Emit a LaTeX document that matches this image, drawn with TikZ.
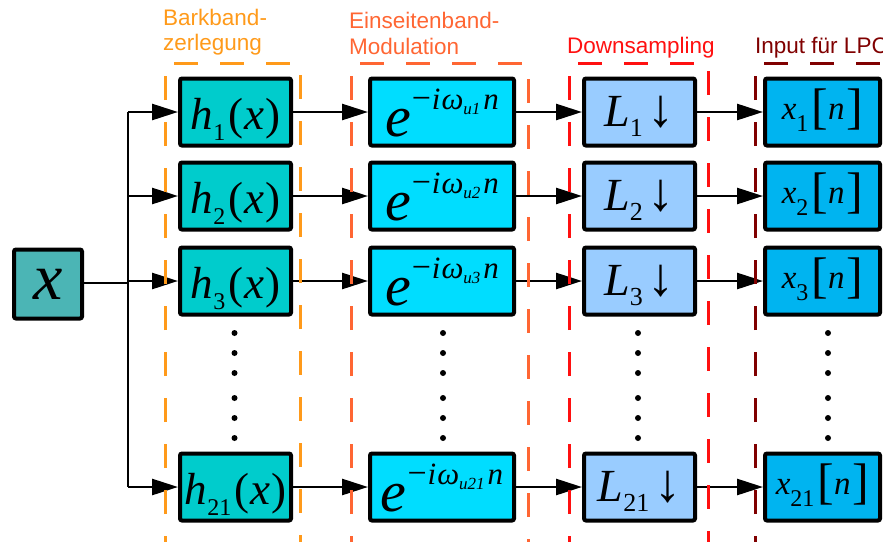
\documentclass[tikz,border=0pt]{standalone}
\usepackage{fontspec}
\setmainfont{Liberation Serif}
\newfontfamily\labfont{Liberation Sans}
\usetikzlibrary{arrows.meta}
\definecolor{cx}{HTML}{4BB5B5}
\definecolor{ch}{HTML}{00CCCC}
\definecolor{ce}{HTML}{00DDFF}
\definecolor{cl}{HTML}{99CCFF}
\definecolor{cn}{HTML}{00B4F0}
\definecolor{frA}{HTML}{FF9A1A}
\definecolor{frB}{HTML}{FF6633}
\definecolor{frC}{HTML}{FF1010}
\definecolor{frD}{HTML}{800000}
\newcommand\sz[1]{\fontsize{#1}{#1}\selectfont}
% baseline placed #1 below the node centre
\newcommand\bl[2]{\raisebox{0pt}[#1][0pt]{#2}}
\newcommand\htxt[1]{\bl{35pt}{{\sz{45}\itshape h}\raisebox{-11pt}{\sz{24}#1}\hspace{3pt}{\sz{45}(\kern1pt{\itshape x}\kern1pt)}}}
\newcommand\etxt[1]{\bl{49pt}{{\sz{58}\itshape e}\kern1pt\raisebox{27pt}{{\sz{34}−}\kern1pt{\sz{31}\itshape i\kern1pt ω}\raisebox{-5pt}{\sz{17}\itshape u#1}\kern3pt{\sz{31}\itshape n}}}}
\newcommand\ltxt[1]{\bl{29pt}{{\sz{46}\itshape L}\raisebox{-10pt}{\sz{26}#1}\hspace{5pt}{\sz{54}↓}}}
\newcommand\ntxt[1]{\bl{15pt}{{\sz{33}\itshape x}\raisebox{-12pt}{\sz{24}#1}\hspace{3pt}\raisebox{-4pt}{\sz{50}[}{\sz{33}\itshape n}\kern2pt\raisebox{-4pt}{\sz{50}]}}}
\begin{document}
\begin{tikzpicture}[x=1pt,y=-1pt,
  blk/.style={draw=black, line width=4pt, rounded corners=2pt, inner sep=0pt, minimum height=67pt, anchor=center},
  hb/.style={blk, fill=ch, minimum width=111pt},
  eb/.style={blk, fill=ce, minimum width=144pt},
  lb/.style={blk, fill=cl, minimum width=111pt},
  nb/.style={blk, fill=cn, minimum width=115pt},
  conn/.style={line width=2.6pt, -{Triangle[length=26pt,width=16pt]}},
  fan/.style={line width=2pt},
  frame/.style={line width=3pt, dash pattern=on 24pt off 22pt},
  lab/.style={anchor=base west, inner sep=0pt, font=\labfont\sz{22.5}},
  dot/.style={fill=black}
]
\useasboundingbox (0,0) rectangle (883,541);
% input
\node[blk, fill=cx, minimum width=68pt, minimum height=69pt] (x) at (48,284) {\bl{31pt}{\sz{66}\itshape x}};
% rows
\foreach \r/\y/\s in {1/112/1, 2/196/2, 3/281/3, 21/487/21}{
  \node[hb] (h\r) at (235.5,\y) {\htxt{\s}};
  \node[eb] (e\r) at (442,\y) {\etxt{\s}};
  \node[lb] (l\r) at (639.5,\y) {\ltxt{\s}};
  \node[nb] (n\r) at (822.5,\y) {\ntxt{\s}};
  \coordinate (v\r) at (128,\y);
  \draw[conn] (v\r) -- (h\r.west);
  \draw[conn] (h\r.east) -- (e\r.west);
  \draw[conn] (e\r.east) -- (l\r.west);
  \draw[conn] (l\r.east) -- (n\r.west);
}
\coordinate (vm) at (128,283);
\draw[fan] (v1) -- (v21);
\draw[fan] (x.east |- vm) -- (vm);
% dots
\foreach \cx in {234.5,443,638,828}{
  \foreach \dy in {333,353,373,398,418,438}{
    \fill[dot] (\cx,\dy) circle (3pt);
  }
}
% frames
\draw[frame, draw=frA] (165,560) -- (165,63) -- (300,63) -- (300,560);
\draw[frame, draw=frB] (351,560) -- (351,63) -- (528,63) -- (528,560);
\draw[frame, draw=frC] (569,560) -- (569,63) -- (708,63) -- (708,560);
\draw[frame, draw=frD] (755,560) -- (755,63) -- (900,63);
% labels
\node[lab, text=frA] (la1) at (163,25) {Barkband-};
\node[lab, text=frA] (la2) at (163,50) {zerlegung};
\node[lab, text=frB] (lb1) at (349,28) {Einseitenband-};
\node[lab, text=frB] (lb2) at (349,54) {Modulation};
\node[lab, text=frC] (lc1) at (567,53) {Downsampling};
\node[lab, text=frD] (ld1) at (755,53) {Input für LPC};
\end{tikzpicture}
\end{document}
